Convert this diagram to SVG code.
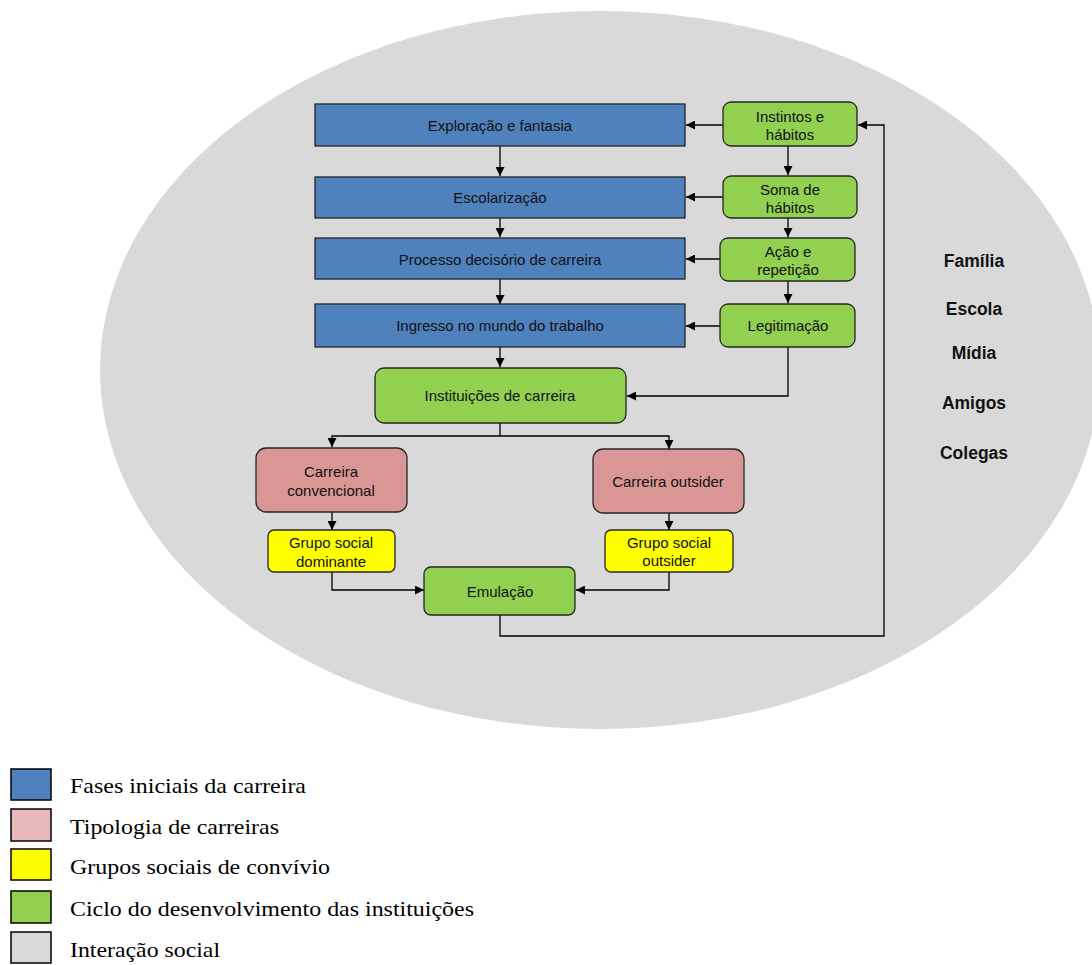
<svg xmlns="http://www.w3.org/2000/svg" width="1092" height="965" viewBox="0 0 1092 965">
<style>
.bg{fill:#D9D9D9}
.box{stroke:#262626;stroke-width:1.3}
.blue{fill:#4F81BD}
.green{fill:#92D050}
.pink{fill:#DA9694}
.yellow{fill:#FFFF00}
.t{font-family:"Liberation Sans",Arial,sans-serif;font-size:15px;fill:#111;text-anchor:middle}
.b{font-family:"Liberation Sans",Arial,sans-serif;font-size:17.5px;font-weight:bold;fill:#111;text-anchor:middle}
.lg{font-family:"Liberation Serif","Times New Roman",serif;font-size:22px;fill:#000}
.c{fill:none;stroke:#000;stroke-width:1.3}
.lbox{stroke:#000;stroke-width:1.5}
</style>
<defs>
<marker id="ah" viewBox="0 0 10 10" refX="10" refY="5" markerWidth="9" markerHeight="9" markerUnits="userSpaceOnUse" orient="auto"><path d="M0,0 L10,5 L0,10 z" fill="#000"/></marker>
</defs>
<rect width="1092" height="965" fill="#fff"/>
<ellipse id="interacao" class="bg" cx="600" cy="370" rx="500" ry="359"/>

<g id="connectors">
<path class="c" marker-end="url(#ah)" d="M723,125 H686"/>
<path class="c" marker-end="url(#ah)" d="M723,197 H686"/>
<path class="c" marker-end="url(#ah)" d="M720,259 H686"/>
<path class="c" marker-end="url(#ah)" d="M720,326 H686"/>
<path class="c" marker-end="url(#ah)" d="M500,146 V176"/>
<path class="c" marker-end="url(#ah)" d="M500,218 V237"/>
<path class="c" marker-end="url(#ah)" d="M500,279 V304"/>
<path class="c" marker-end="url(#ah)" d="M500,347 V367"/>
<path class="c" marker-end="url(#ah)" d="M788,146 V175"/>
<path class="c" marker-end="url(#ah)" d="M788,218 V237"/>
<path class="c" marker-end="url(#ah)" d="M788,281 V303"/>
<path class="c" marker-end="url(#ah)" d="M788,347 V396 H627"/>
<path class="c" d="M500,423 V436"/>
<path class="c" marker-end="url(#ah)" d="M500,436 H332 V447"/>
<path class="c" marker-end="url(#ah)" d="M500,436 H669 V449"/>
<path class="c" marker-end="url(#ah)" d="M332,512 V530"/>
<path class="c" marker-end="url(#ah)" d="M669,513 V530"/>
<path class="c" marker-end="url(#ah)" d="M332,572 V590 H424"/>
<path class="c" marker-end="url(#ah)" d="M669,572 V590 H576"/>
<path class="c" marker-end="url(#ah)" d="M500,615 V636 H884 V125 H858"/>
</g>

<g id="exploracao"><rect class="box blue" x="315" y="104" width="370" height="42"/><text class="t" x="500" y="131">Exploração e fantasia</text></g>
<g id="escolarizacao"><rect class="box blue" x="315" y="177" width="370" height="41"/><text class="t" x="500" y="203">Escolarização</text></g>
<g id="processo"><rect class="box blue" x="315" y="238" width="370" height="41"/><text class="t" x="500" y="265">Processo decisório de carreira</text></g>
<g id="ingresso"><rect class="box blue" x="315" y="304" width="370" height="43"/><text class="t" x="500" y="331">Ingresso no mundo do trabalho</text></g>

<g id="instintos"><rect class="box green" x="723" y="102" width="134" height="44" rx="8"/><text class="t" x="790" y="122">Instintos e</text><text class="t" x="790" y="140">hábitos</text></g>
<g id="soma"><rect class="box green" x="723" y="176" width="134" height="42" rx="8"/><text class="t" x="790" y="195">Soma de</text><text class="t" x="790" y="213">hábitos</text></g>
<g id="acao"><rect class="box green" x="720" y="238" width="135" height="43" rx="8"/><text class="t" x="788" y="257">Ação e</text><text class="t" x="788" y="275">repetição</text></g>
<g id="legitimacao"><rect class="box green" x="720" y="304" width="135" height="43" rx="8"/><text class="t" x="788" y="331">Legitimação</text></g>

<g id="instituicoes"><rect class="box green" x="375" y="368" width="251" height="55" rx="9"/><text class="t" x="500" y="401">Instituições de carreira</text></g>
<g id="convencional"><rect class="box pink" x="256" y="448" width="151" height="64" rx="10"/><text class="t" x="331" y="477">Carreira</text><text class="t" x="331" y="496">convencional</text></g>
<g id="outsider"><rect class="box pink" x="593" y="449" width="151" height="64" rx="10"/><text class="t" x="668" y="487">Carreira  outsider</text></g>
<g id="dominante"><rect class="box yellow" x="268" y="530" width="127" height="42" rx="6"/><text class="t" x="331" y="548">Grupo social</text><text class="t" x="331" y="567">dominante</text></g>
<g id="grupooutsider"><rect class="box yellow" x="605" y="530" width="128" height="42" rx="6"/><text class="t" x="669" y="548">Grupo social</text><text class="t" x="669" y="566">outsider</text></g>
<g id="emulacao"><rect class="box green" x="424" y="567" width="151" height="48" rx="7"/><text class="t" x="500" y="597">Emulação</text></g>

<g id="agentes">
<text class="b" x="974" y="267">Família</text>
<text class="b" x="974" y="315">Escola</text>
<text class="b" x="974" y="359">Mídia</text>
<text class="b" x="974" y="409">Amigos</text>
<text class="b" x="974" y="459">Colegas</text>
</g>

<g id="legenda">
<rect class="lbox" x="11" y="769" width="40" height="31" fill="#4F81BD"/>
<text class="lg" x="70" y="793" textLength="236" lengthAdjust="spacingAndGlyphs">Fases iniciais da carreira</text>
<rect class="lbox" x="11" y="809" width="40" height="32" fill="#E6B8B7"/>
<text class="lg" x="70" y="834" textLength="209" lengthAdjust="spacingAndGlyphs">Tipologia de carreiras</text>
<rect class="lbox" x="11" y="849" width="40" height="31" fill="#FFFF00"/>
<text class="lg" x="70" y="874" textLength="260" lengthAdjust="spacingAndGlyphs">Grupos sociais de convívio</text>
<rect class="lbox" x="11" y="891" width="40" height="32" fill="#92D050"/>
<text class="lg" x="70" y="916" textLength="404" lengthAdjust="spacingAndGlyphs">Ciclo do desenvolvimento das instituições</text>
<rect class="lbox" x="11" y="932" width="40" height="31" fill="#D9D9D9"/>
<text class="lg" x="70" y="957" textLength="150" lengthAdjust="spacingAndGlyphs">Interação social</text>
</g>
</svg>
